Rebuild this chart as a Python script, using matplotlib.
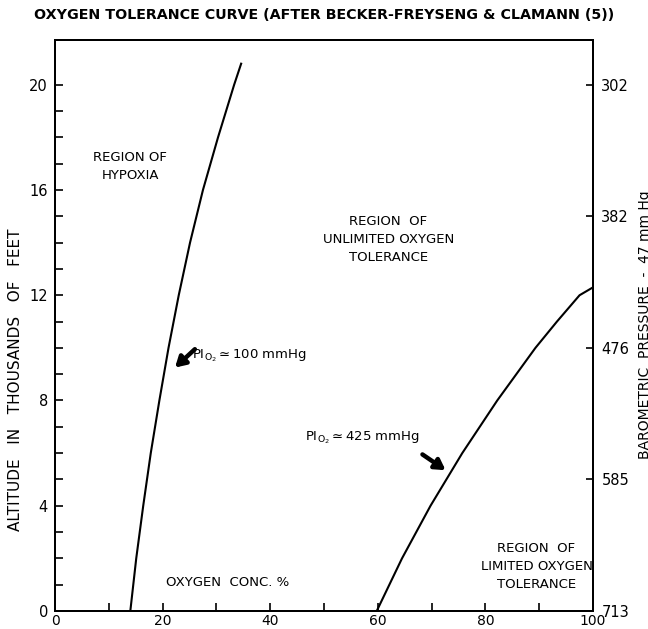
import matplotlib
matplotlib.use("Agg")
import matplotlib.pyplot as plt

# curves: altitude (thousands of ft) vs oxygen conc. %
alt_100 = [0, 2, 4, 6, 8, 10, 12, 14, 16, 18, 20, 20.8]
conc_100 = [14.0, 15.1, 16.4, 17.8, 19.4, 21.1, 23.0, 25.1, 27.5, 30.3, 33.3, 34.6]

alt_425 = [0, 2, 4, 6, 8, 10, 11, 12, 12.3]
conc_425 = [59.8, 64.5, 69.8, 75.7, 82.2, 89.3, 93.3, 97.5, 100.0]

x_ticks = [0, 20, 40, 60, 80, 100]
y_ticks = [0, 4, 8, 12, 16, 20]
right_pos = [20, 15, 10, 5, 0]
right_labels = ["302", "382", "476", "585", "713"]

plt.rcParams["font.family"] = "DejaVu Sans"

fig = plt.figure(figsize=(6.48, 6.29), dpi=100)
ax = fig.add_axes([55 / 648, 1 - 611 / 629, 538 / 648, 571 / 629])

ax.plot(conc_100, alt_100, color="black", lw=1.5)
ax.plot(conc_425, alt_425, color="black", lw=1.5)

ax.set_xlim(0, 100)
ax.set_ylim(0, 21.7)
for s in ax.spines.values():
    s.set_linewidth(1.4)

ax.set_xticks(range(0, 101, 10), minor=True)
ax.set_xticks(x_ticks)
ax.set_xticklabels([str(t) for t in x_ticks])
ax.set_yticks(range(0, 21), minor=True)
ax.set_yticks(y_ticks)
ax.set_yticklabels([str(t) for t in y_ticks])
ax.tick_params(which="both", direction="in", length=6, width=1.2, labelsize=10.5)
ax.tick_params(axis="x", pad=2, labelsize=10)
ax.tick_params(axis="y", pad=5)

ax2 = ax.twinx()
ax2.set_ylim(0, 21.7)
ax2.set_yticks(right_pos)
ax2.set_yticklabels(right_labels)
ax2.tick_params(direction="in", length=5, width=1.2, labelsize=10.5, pad=6)
for s in ax2.spines.values():
    s.set_linewidth(1.4)

fig.text(16 / 648, 1 - 380 / 629, "ALTITUDE   IN   THOUSANDS   OF   FEET", rotation=90,
         ha="center", va="center", fontsize=11)
fig.text(645 / 648, 1 - 325 / 629, "BAROMETRIC  PRESSURE  -  47 mm Hg", rotation=90,
         ha="center", va="center", fontsize=10)

fig.text(0.5, 1 - 15 / 629, "OXYGEN TOLERANCE CURVE (AFTER BECKER-FREYSENG & CLAMANN (5))",
         ha="center", va="center", fontsize=10.3, fontweight="bold")

ax.text(14, 16.9, "REGION OF\nHYPOXIA", ha="center", va="center",
        fontsize=9.5, linespacing=1.5)
ax.text(62, 14.1, "REGION  OF\nUNLIMITED OXYGEN\nTOLERANCE", ha="center", va="center",
        fontsize=9.5, linespacing=1.5)
ax.text(89.5, 1.7, "REGION  OF\nLIMITED OXYGEN\nTOLERANCE", ha="center", va="center",
        fontsize=9.5, linespacing=1.5)
ax.text(32, 1.1, "OXYGEN  CONC. %", ha="center", va="center", fontsize=9.5)

ax.text(25.5, 9.7, r"P$\mathregular{I_{O_2}}$$\simeq$100 mmHg", ha="left", va="center",
        fontsize=9.5)
ax.text(46.4, 6.6, r"P$\mathregular{I_{O_2}}$$\simeq$425 mmHg", ha="left", va="center",
        fontsize=9.5)

arrow = dict(arrowstyle="-|>,head_width=0.35,head_length=0.6", lw=3.2, color="black",
             shrinkA=0, shrinkB=0)
ax.annotate("", xy=(22.3, 9.25), xytext=(26.0, 9.95), arrowprops=arrow)
ax.annotate("", xy=(72.6, 5.35), xytext=(68.3, 5.95), arrowprops=arrow)

fig.savefig("out.png", dpi=100)
